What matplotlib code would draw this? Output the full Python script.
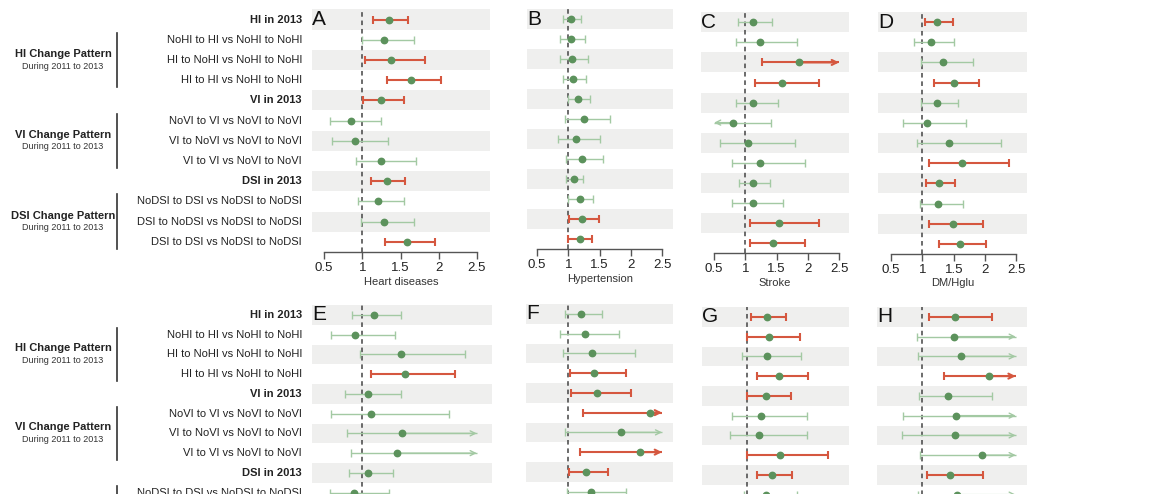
import matplotlib
matplotlib.use('Agg')
import matplotlib.pyplot as plt
import matplotlib.transforms as mtransforms
import numpy as np

plt.rcParams['font.family'] = ['Liberation Sans', 'DejaVu Sans']

# ---------------- data ----------------
row_labels = [
    "HI in 2013",
    "NoHI to HI vs NoHI to NoHI",
    "HI to NoHI vs NoHI to NoHI",
    "HI to HI vs NoHI to NoHI",
    "VI in 2013",
    "NoVI to VI vs NoVI to NoVI",
    "VI to NoVI vs NoVI to NoVI",
    "VI to VI vs NoVI to NoVI",
    "DSI in 2013",
    "NoDSI to DSI vs NoDSI to NoDSI",
    "DSI to NoDSI vs NoDSI to NoDSI",
    "DSI to DSI vs NoDSI to NoDSI",
]
bold_rows = [0, 4, 8]
group_titles = ["HI Change Pattern", "VI Change Pattern", "DSI Change Pattern"]
group_sub = "During 2011 to 2013"
group_mid_rows = [2, 6, 10]

panel_letters = ["A", "B", "C", "D", "E", "F", "G", "H"]
top_outcomes = ["Heart diseases", "Hypertension", "Stroke", "DM/Hglu"]
tick_vals = [0.5, 1, 1.5, 2, 2.5]
tick_labels = ["0.5", "1", "1.5", "2", "2.5"]

# odds ratios, lower / upper CI, significance (1 = red)
a_or = [1.35, 1.29, 1.37, 1.64, 1.25, 0.85, 0.90, 1.24, 1.32, 1.21, 1.29, 1.59]
a_lo = [1.14, 1.00, 1.03, 1.32, 1.01, 0.58, 0.61, 0.92, 1.12, 0.95, 0.99, 1.30]
a_hi = [1.60, 1.68, 1.82, 2.03, 1.55, 1.24, 1.34, 1.70, 1.56, 1.55, 1.68, 1.95]
a_sig = [1, 0, 1, 1, 1, 0, 0, 0, 1, 0, 0, 1]

b_or = [1.05, 1.04, 1.06, 1.08, 1.15, 1.25, 1.12, 1.22, 1.09, 1.18, 1.22, 1.18]
b_lo = [0.92, 0.87, 0.86, 0.92, 0.99, 0.95, 0.84, 0.96, 0.96, 1.00, 1.01, 1.00]
b_hi = [1.20, 1.27, 1.32, 1.28, 1.35, 1.66, 1.50, 1.56, 1.24, 1.40, 1.49, 1.38]
b_sig = [0, 0, 0, 0, 0, 0, 0, 0, 0, 0, 1, 1]

c_or = [1.13, 1.24, 1.86, 1.59, 1.13, 0.81, 1.04, 1.23, 1.12, 1.12, 1.54, 1.45]
c_lo = [0.89, 0.85, 1.27, 1.16, 0.85, 0.45, 0.60, 0.79, 0.90, 0.79, 1.08, 1.08]
c_hi = [1.43, 1.83, 2.75, 2.18, 1.52, 1.41, 1.80, 1.95, 1.39, 1.60, 2.18, 1.95]
c_sig = [0, 0, 1, 1, 0, 0, 0, 0, 0, 0, 1, 1]

d_or = [1.23, 1.13, 1.33, 1.50, 1.23, 1.08, 1.43, 1.63, 1.27, 1.25, 1.48, 1.60]
d_lo = [1.04, 0.86, 0.97, 1.19, 0.97, 0.69, 0.91, 1.11, 1.06, 0.96, 1.11, 1.27]
d_hi = [1.49, 1.50, 1.80, 1.90, 1.56, 1.70, 2.25, 2.39, 1.52, 1.65, 1.96, 2.01]
d_sig = [1, 0, 0, 1, 0, 0, 0, 1, 1, 0, 1, 1]

e_or = [1.15, 0.91, 1.51, 1.56, 1.08, 1.12, 1.52, 1.46, 1.07, 0.89, 1.20, 1.40]
e_lo = [0.87, 0.59, 0.97, 1.11, 0.78, 0.59, 0.80, 0.85, 0.83, 0.58, 0.85, 1.05]
e_hi = [1.51, 1.43, 2.35, 2.22, 1.51, 2.14, 2.80, 2.80, 1.41, 1.35, 1.70, 1.85]
e_sig = [0, 0, 0, 1, 0, 0, 0, 0, 0, 0, 0, 1]

f_or = [1.20, 1.26, 1.38, 1.41, 1.45, 2.31, 1.85, 2.14, 1.28, 1.36, 1.40, 1.55]
f_lo = [0.95, 0.87, 0.92, 1.03, 1.04, 1.23, 0.95, 1.19, 1.01, 0.97, 1.02, 1.15]
f_hi = [1.54, 1.81, 2.07, 1.93, 2.00, 2.80, 2.80, 2.80, 1.63, 1.92, 1.90, 2.05]
f_sig = [0, 0, 0, 1, 1, 1, 0, 1, 1, 0, 1, 1]

g_or = [1.32, 1.35, 1.32, 1.52, 1.31, 1.22, 1.20, 1.53, 1.41, 1.30, 1.45, 1.50]
g_lo = [1.07, 1.00, 0.93, 1.17, 1.01, 0.76, 0.73, 1.01, 1.16, 0.95, 1.05, 1.18]
g_hi = [1.63, 1.85, 1.87, 1.98, 1.71, 1.97, 1.97, 2.30, 1.73, 1.80, 2.00, 1.90]
g_sig = [1, 1, 0, 1, 1, 0, 0, 1, 1, 0, 1, 1]

h_or = [1.53, 1.51, 1.63, 2.07, 1.42, 1.55, 1.54, 1.96, 1.46, 1.56, 1.60, 1.70]
h_lo = [1.12, 0.92, 0.95, 1.36, 0.96, 0.70, 0.69, 0.97, 1.09, 0.95, 1.10, 1.25]
h_hi = [2.12, 2.80, 2.80, 2.80, 2.12, 2.80, 2.80, 2.80, 1.98, 2.80, 2.40, 2.30]
h_sig = [1, 0, 0, 1, 0, 0, 0, 0, 1, 0, 1, 1]

panels = [
    (a_or, a_lo, a_hi, a_sig), (b_or, b_lo, b_hi, b_sig),
    (c_or, c_lo, c_hi, c_sig), (d_or, d_lo, d_hi, d_sig),
    (e_or, e_lo, e_hi, e_sig), (f_or, f_lo, f_hi, f_sig),
    (g_or, g_lo, g_hi, g_sig), (h_or, h_lo, h_hi, h_sig),
]

# ---------------- layout (pixels) ----------------
W, H = 1162, 494
# left, right, top, bottom, xmin, xmax
boxes = [
    (312, 490, 9.4, 252, 0.343, 2.67),
    (527, 673, 9.3, 249, 0.34, 2.676),
    (701, 849, 12.3, 253, 0.29, 2.66),
    (878, 1027, 12.0, 254, 0.29, 2.67),
    (312, 492, 305, 542, 0.343, 2.70),
    (526, 673, 304, 541, 0.32, 2.676),
    (702, 849, 307, 544, 0.28, 2.64),
    (877, 1027, 307, 544, 0.29, 2.68),
]

RED = '#d5573f'
GREEN_CI = '#a3c9a3'
GREEN_PT = '#5c925c'
BAND = '#efefee'
AXC = '#555555'

fig = plt.figure(figsize=(W / 100, H / 100), dpi=100)
fig.patch.set_facecolor('white')

axes = []
n = len(row_labels)
for k, (l, r, t, b, x0, x1) in enumerate(boxes):
    ax = fig.add_axes([l / W, 1 - b / H, (r - l) / W, (b - t) / H])
    axes.append(ax)
    ax.set_xlim(x0, x1)
    ax.set_ylim(n - 0.5, -0.5)
    for i in range(0, n, 2):
        ax.axhspan(i - 0.5, i + 0.5, color=BAND, lw=0, zorder=0)
    ax.axvline(1, color='#444444', lw=1.1, ls=(0, (3, 2.5)), zorder=1)
    orr, lo, hi, sig = panels[k]
    for i in range(n):
        c = RED if sig[i] else GREEN_CI
        lw = 1.5 if sig[i] else 1.0
        lo_c = max(lo[i], 0.5)
        hi_c = min(hi[i], 2.5)
        ax.plot([lo_c, hi_c], [i, i], color=c, lw=lw, zorder=2, solid_capstyle='butt')
        if lo[i] >= 0.5:
            ax.plot([lo_c], [i], marker='|', ms=6, mew=lw, color=c, zorder=2)
        else:
            ax.annotate('', xy=(0.5, i), xytext=(orr[i], i),
                        arrowprops=dict(arrowstyle='->', color=c, lw=lw,
                                        shrinkA=0, shrinkB=0, mutation_scale=9), zorder=2)
        if hi[i] <= 2.5:
            ax.plot([hi_c], [i], marker='|', ms=6, mew=lw, color=c, zorder=2)
        else:
            ax.annotate('', xy=(2.5, i), xytext=(orr[i], i),
                        arrowprops=dict(arrowstyle='->', color=c, lw=lw,
                                        shrinkA=0, shrinkB=0, mutation_scale=9), zorder=2)
        ax.plot([orr[i]], [i], 'o', ms=4.6, color=GREEN_PT, mec=GREEN_PT, zorder=5)

    for s in ['top', 'right', 'left']:
        ax.spines[s].set_visible(False)
    ax.spines['bottom'].set_bounds(0.5, 2.5)
    ax.spines['bottom'].set_color(AXC)
    ax.spines['bottom'].set_linewidth(1.0)
    ax.set_yticks([])
    ax.set_xticks(tick_vals)
    ax.set_xticklabels(tick_labels, fontsize=9.5, color='#222222')
    ax.tick_params(axis='x', direction='out', length=5, width=1.0, color=AXC, pad=2)
    if k < 4:
        ax.set_xlabel(top_outcomes[k], fontsize=8, color='#333333', labelpad=2)
    trans = mtransforms.blended_transform_factory(ax.transAxes, ax.transData)
    ax.text(0.0, 0, panel_letters[k], transform=trans, ha='left', va='center',
            fontsize=15, color='#111111')

# ---------------- row labels & group labels ----------------
for ax in (axes[0], axes[4]):
    tr = mtransforms.blended_transform_factory(fig.transFigure, ax.transData)
    for i, lab in enumerate(row_labels):
        fw = 'bold' if i in bold_rows else 'normal'
        ax.text(302 / W, i, lab, transform=tr, ha='right', va='center',
                fontsize=8, fontweight=fw, color='#222222', clip_on=False)
    for g, mid in zip(group_titles, group_mid_rows):
        ax.text(63 / W, mid - 0.3, g, transform=tr, ha='center', va='center',
                fontsize=8, fontweight='bold', color='#222222', clip_on=False)
        ax.text(63 / W, mid + 0.3, group_sub, transform=tr, ha='center', va='center',
                fontsize=6.5, color='#333333', clip_on=False)
        ax.plot([117 / W, 117 / W], [mid - 1.35, mid + 1.35], transform=tr,
                color='#333333', lw=1.2, clip_on=False)

fig.savefig('out.png', dpi=100)
